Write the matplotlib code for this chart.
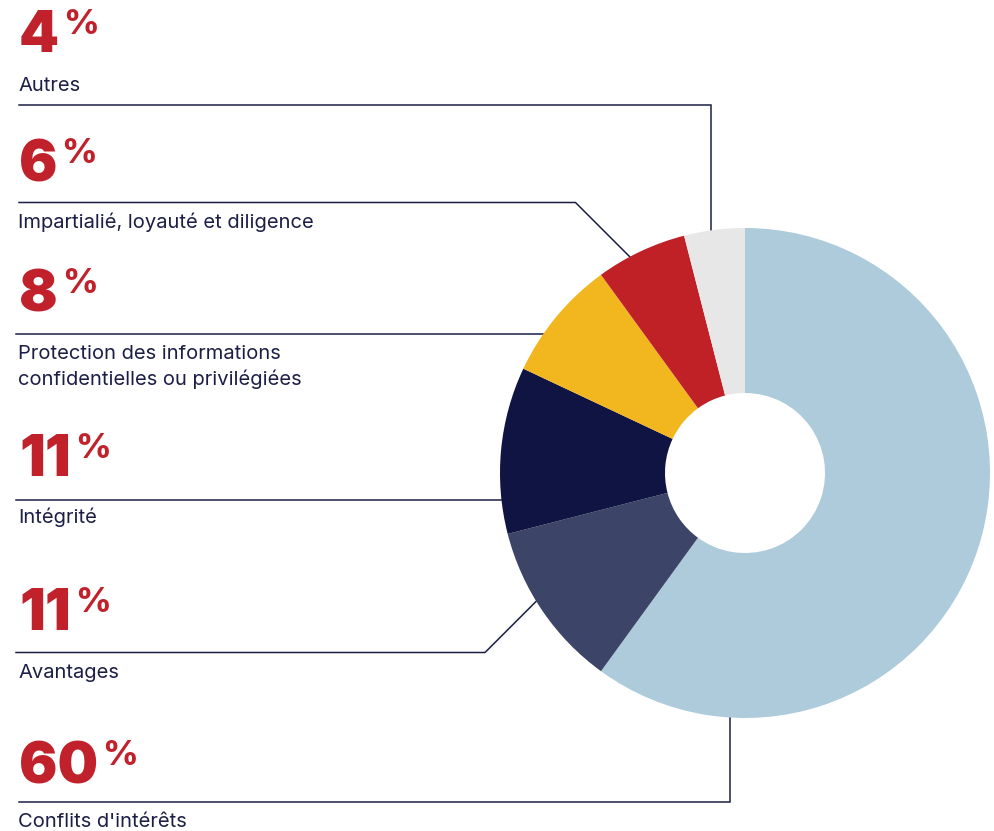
import matplotlib
matplotlib.use("Agg")
import matplotlib.pyplot as plt

plt.rcParams['font.family'] = ['Inter', 'DejaVu Sans']

# slices, clockwise from the top
categories = ["Conflits d'intérêts", "Avantages", "Intégrité",
              "Protection des informations\nconfidentielles ou privilégiées",
              "Impartialié, loyauté et diligence", "Autres"]
values = [60, 11, 11, 8, 6, 4]
colors = ["#aecbdb", "#3c4468", "#0f1442", "#f2b71f", "#c02126", "#e7e7e7"]

red = "#c0212b"
navy = "#1b1f45"

# label blocks, top to bottom (index into categories)
order = [5, 4, 3, 2, 1, 0]
num_base = [52, 181, 311, 476, 630, 783]      # baseline of the big number
lab_base = [91, 228, 359, 523, 678, 827]      # baseline of first label line
line_step = 26

# leader lines (pixel coords), drawn under the donut
leaders = [
    [(19, 104.5), (710.5, 104.5), (710.5, 270)],
    [(19, 202.5), (575.5, 202.5), (650, 277)],
    [(16, 333.5), (580, 333.5)],
    [(16, 500), (540, 500)],
    [(16, 652.5), (485, 652.5), (560, 577.5)],
    [(19, 801.5), (729.5, 801.5), (729.5, 690)],
]

fig = plt.figure(figsize=(9.95, 8.31), dpi=100)
ax = fig.add_axes([0, 0, 1, 1])

# y axis inverted -> startangle -90 is the top, ccw in data is clockwise on screen
ax.pie(values, colors=colors, center=(745, 473), radius=245, startangle=-90,
       counterclock=True, wedgeprops=dict(width=165, linewidth=0))

ax.set_xlim(0, 995)
ax.set_ylim(831, 0)
ax.set_aspect('equal')
ax.axis('off')

for pts in leaders:
    xs = [p[0] for p in pts]
    ys = [p[1] for p in pts]
    ax.plot(xs, ys, color=navy, lw=1.1, zorder=0.5, solid_joinstyle='miter')

for i, k in enumerate(order):
    t = ax.text(19, num_base[i], str(values[k]), color=red, fontsize=41,
                fontweight='black', va='baseline', ha='left')
    ax.annotate('%', xy=(1, 1), xycoords=t, xytext=(4, 1),
                textcoords='offset pixels', color=red, fontsize=25,
                fontweight='heavy', va='top', ha='left')
    for j, line in enumerate(categories[k].split("\n")):
        ax.text(18, lab_base[i] + j * line_step, line, color=navy,
                fontsize=14.5, va='baseline', ha='left')

fig.savefig("out.png", dpi=100)
